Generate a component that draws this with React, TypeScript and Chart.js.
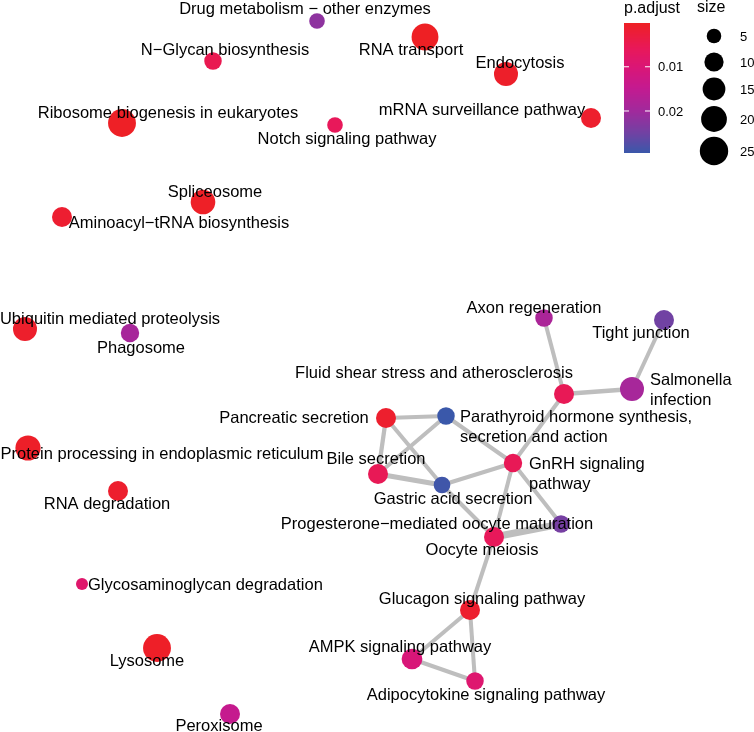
import React, { useEffect, useRef } from "react";
import { Chart, registerables } from "chart.js";

Chart.register(...registerables);

// ---- data ----
const pathways = [
  "Drug metabolism − other enzymes",
  "RNA transport",
  "N−Glycan biosynthesis",
  "Endocytosis",
  "Ribosome biogenesis in eukaryotes",
  "Notch signaling pathway",
  "mRNA surveillance pathway",
  "Spliceosome",
  "Aminoacyl−tRNA biosynthesis",
  "Ubiquitin mediated proteolysis",
  "Phagosome",
  "Protein processing in endoplasmic reticulum",
  "RNA degradation",
  "Glycosaminoglycan degradation",
  "Lysosome",
  "Peroxisome",
  "Axon regeneration",
  "Tight junction",
  "Fluid shear stress and atherosclerosis",
  "Salmonella\ninfection",
  "Pancreatic secretion",
  "Parathyroid hormone synthesis,\nsecretion and action",
  "Bile secretion",
  "GnRH signaling\npathway",
  "Gastric acid secretion",
  "Progesterone−mediated oocyte maturation",
  "Oocyte meiosis",
  "Glucagon signaling pathway",
  "AMPK signaling pathway",
  "Adipocytokine signaling pathway",
];

// graph layout coordinates
const layoutX = [317, 425, 213, 506, 122, 335, 591, 203, 62, 25, 130, 28, 118, 82, 157, 230, 544, 664, 564, 632, 386, 446, 378, 513, 442, 561, 494, 470, 412, 475];
const layoutY = [21, 37, 61, 74, 123, 125, 118, 202, 217, 329, 333, 448, 491, 584, 648, 714, 318, 320, 394, 389, 418, 416, 474, 463, 485, 524, 537, 610, 659, 681];

const geneCount = [6, 22, 8, 17, 24, 6, 11, 18, 11, 17, 9, 19, 11, 3, 24, 11, 8, 11, 11, 17, 11, 8, 11, 9, 7, 8, 11, 11, 12, 8];
const pAdjust = [0.022, 0.0001, 0.005, 0.0008, 0.0003, 0.006, 0.0012, 0.0004, 0.0015, 0.001, 0.019, 0.0006, 0.0012, 0.0085, 0.0005, 0.0145, 0.0185, 0.025, 0.0055, 0.019, 0.0012, 0.0295, 0.0055, 0.0055, 0.029, 0.0245, 0.006, 0.0012, 0.0105, 0.009];

// edges (similarity)
const edgeFrom = [16, 17, 18, 18, 20, 20, 20, 21, 21, 22, 24, 24, 23, 23, 26, 26, 27, 27, 28];
const edgeTo = [18, 19, 19, 23, 21, 22, 24, 22, 23, 24, 23, 26, 26, 25, 25, 27, 28, 29, 29];
const edgeSim = [0.22, 0.22, 0.24, 0.22, 0.22, 0.24, 0.22, 0.22, 0.22, 0.3, 0.22, 0.22, 0.22, 0.22, 0.45, 0.22, 0.22, 0.22, 0.22];

const colorTicks = [0.01, 0.02];
const sizeTicks = [5, 10, 15, 20, 25];

// label placement (repel offsets, px) and alignment
const labelDx = [-12, -14, 12, 14, 46, 12, -109, 12, 117, 85, 11, 134, -11, 6, -10, -11, -10, -23, -130, 18, -92, 14, -2, 16, 11, -124, -12, 12, -12, 11];
const labelDy = [-13, 12, -12, -12, -11, 13, -9, -11, 5, -11, 14, 5, 12, 0, 12, 11, -11, 12, -22, 0, -1, 10, -16, 10, 13, -1, 12, -12, -13, 13];
const labelLeft = [13, 19, 21, 23];

// ---- styles / scales ----
const FONT = '"Liberation Sans", Arial, Helvetica, sans-serif';
const stops: [number, number[]][] = [
  [0, [238, 32, 36]],
  [0.2, [232, 24, 90]],
  [0.34, [218, 22, 118]],
  [0.5, [196, 26, 144]],
  [0.68, [160, 42, 156]],
  [0.85, [112, 66, 163]],
  [1, [58, 88, 170]],
];
const pMin = Math.min(...pAdjust);
const pMax = Math.max(...pAdjust);
function colorFor(p: number): string {
  const t = Math.max(0, Math.min(1, (p - pMin) / (pMax - pMin)));
  for (let i = 1; i < stops.length; i++) {
    if (t <= stops[i][0]) {
      const [t0, c0] = stops[i - 1];
      const [t1, c1] = stops[i];
      const f = (t - t0) / (t1 - t0);
      const c = c0.map((v, k) => Math.round(v + (c1[k] - v) * f));
      return `rgb(${c[0]},${c[1]},${c[2]})`;
    }
  }
  return "rgb(58,88,170)";
}
const radiusFor = (s: number) => 1.7 + 2.5 * Math.sqrt(s);

const labelPlugin = {
  id: "nodeLabels",
  afterDatasetsDraw(chart: any) {
    const ctx = chart.ctx;
    const xs = chart.scales.x;
    const ys = chart.scales.y;
    ctx.save();
    ctx.font = `16.5px ${FONT}`;
    ctx.fillStyle = "#000";
    ctx.textBaseline = "middle";
    pathways.forEach((name, i) => {
      const px = xs.getPixelForValue(layoutX[i]) + labelDx[i];
      const py = ys.getPixelForValue(layoutY[i]) + labelDy[i];
      const lines = name.split("\n");
      const lh = 20;
      const left = labelLeft.includes(i);
      ctx.textAlign = left ? "left" : "center";
      lines.forEach((ln, k) => {
        ctx.fillText(ln, px, py + 1 - ((lines.length - 1) * lh) / 2 + k * lh);
      });
    });
    ctx.restore();
  },
};

const legendPlugin = {
  id: "customLegend",
  afterDraw(chart: any) {
    const ctx = chart.ctx;
    ctx.save();
    // p.adjust colorbar
    const bx = 624, bw = 26, by = 23, bh = 130;
    ctx.font = `16px ${FONT}`;
    ctx.fillStyle = "#000";
    ctx.textBaseline = "middle";
    ctx.textAlign = "left";
    ctx.fillText("p.adjust", bx, 9);
    for (let k = 0; k < bh; k++) {
      const p = pMin + ((k + 0.5) / bh) * (pMax - pMin);
      ctx.fillStyle = colorFor(p);
      ctx.fillRect(bx, by + k, bw, 1);
    }
    ctx.font = `13px ${FONT}`;
    colorTicks.forEach((v) => {
      const y = by + ((v - pMin) / (pMax - pMin)) * bh;
      ctx.strokeStyle = "#fff";
      ctx.lineWidth = 1;
      ctx.beginPath();
      ctx.moveTo(bx, y);
      ctx.lineTo(bx + 5, y);
      ctx.moveTo(bx + bw - 5, y);
      ctx.lineTo(bx + bw, y);
      ctx.stroke();
      ctx.fillStyle = "#000";
      ctx.fillText(v.toFixed(2), bx + bw + 8, y + 1);
    });
    // size legend
    ctx.font = `16px ${FONT}`;
    ctx.fillText("size", 697, 8);
    const cx = 714;
    const cys = [36, 62, 89, 119, 151];
    ctx.font = `13px ${FONT}`;
    sizeTicks.forEach((s, i) => {
      ctx.fillStyle = "#000";
      ctx.beginPath();
      ctx.arc(cx, cys[i], radiusFor(s), 0, Math.PI * 2);
      ctx.fill();
      ctx.fillText(String(s), 740, cys[i] + 1);
    });
    ctx.restore();
  },
};

export default function App() {
  const ref = useRef<HTMLCanvasElement | null>(null);
  useEffect(() => {
    if (!ref.current) return;
    const nodeData = pathways.map((_, i) => ({ x: layoutX[i], y: layoutY[i] }));
    const edgeSets: any[] = edgeFrom.map((a, k) => ({
      type: "line",
      data: [
        { x: layoutX[a], y: layoutY[a] },
        { x: layoutX[edgeTo[k]], y: layoutY[edgeTo[k]] },
      ],
      showLine: true,
      borderColor: "#BEBEBE",
      borderWidth: 1.2 + 12.8 * edgeSim[k],
      pointRadius: 0,
      pointHoverRadius: 0,
      clip: false,
      order: 2,
    }));
    const chart = new Chart(ref.current, {
      type: "scatter",
      data: {
        datasets: [
          {
            type: "scatter",
            data: nodeData,
            pointRadius: geneCount.map(radiusFor),
            pointHoverRadius: geneCount.map(radiusFor),
            backgroundColor: pAdjust.map(colorFor),
            borderWidth: 0,
            clip: false,
            order: 1,
          } as any,
          ...edgeSets,
        ],
      },
      options: {
        animation: false,
        responsive: false,
        maintainAspectRatio: false,
        devicePixelRatio: 1,
        layout: { padding: 0, autoPadding: false },
        events: [],
        plugins: { legend: { display: false }, tooltip: { enabled: false } },
        scales: {
          x: { type: "linear", min: 0, max: 754, display: false },
          y: { type: "linear", min: 0, max: 732, reverse: true, display: false },
        },
      },
      plugins: [labelPlugin, legendPlugin],
    });
    return () => chart.destroy();
  }, []);
  return (
    <div style={{ position: "absolute", left: 0, top: 0, width: 754, height: 732, background: "#fff" }}>
      <canvas ref={ref} width={754} height={732} style={{ display: "block" }} />
    </div>
  );
}
